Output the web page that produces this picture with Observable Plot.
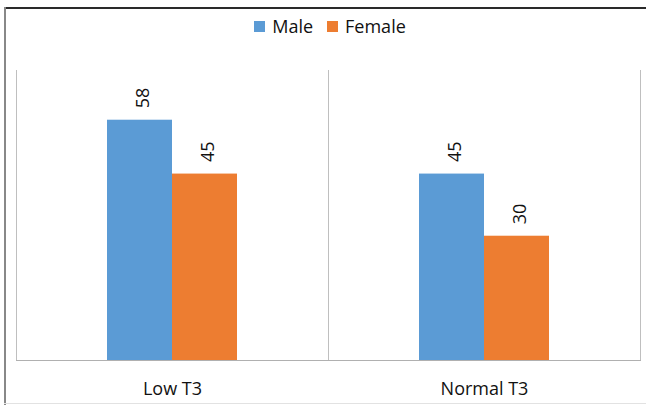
<!DOCTYPE html>
<html>
<head>
<meta charset="utf-8">
<script src="https://cdn.jsdelivr.net/npm/d3@7"></script>
<script src="https://cdn.jsdelivr.net/npm/@observablehq/plot@0.6"></script>
<style>
  html, body { margin: 0; padding: 0; background: #fff; }
  #wrap { position: relative; width: 646px; height: 405px; overflow: hidden; font-family: "Open Sans", sans-serif; }
  .edge { position: absolute; }
  #legend { position: absolute; top: 14px; left: 0; width: 660px; display: flex; justify-content: center; gap: 14px; font-size: 18px; color: #111; }
  #legend .item { display: flex; align-items: center; gap: 7px; }
  #legend .sw { width: 11px; height: 11px; display: inline-block; }
  #chart { position: absolute; top: 56px; left: 0; }
</style>
</head>
<body>
<div id="wrap">
  <div class="edge" style="left:4px; top:7px; width:642px; height:2px; background:#2a2a2a;"></div>
  <div class="edge" style="left:4px; top:7px; width:2px; height:398px; background:#888;"></div>
  <div class="edge" style="left:4px; top:403px; width:642px; height:1px; background:#e2e2e2;"></div>
  <div id="legend"></div>
  <div id="chart"></div>
</div>
<script>
// Patients by T3 status and sex
const groups = ["Low T3", "Normal T3"];
const sexes = ["Male", "Female"];
const maleValues = [58, 45];
const femaleValues = [45, 30];
const colors = ["#5b9bd5", "#ed7d31"];

const data = [];
groups.forEach((g, i) => {
  data.push({group: g, sex: "Male", value: maleValues[i]});
  data.push({group: g, sex: "Female", value: femaleValues[i]});
});

// Legend
const legend = document.getElementById("legend");
sexes.forEach((s, i) => {
  const item = document.createElement("div");
  item.className = "item";
  const sw = document.createElement("span");
  sw.className = "sw";
  sw.style.background = colors[i];
  const label = document.createElement("span");
  label.textContent = s;
  item.append(sw, label);
  legend.append(item);
});

const lineColor = "#bfbfbf";

const chart = Plot.plot({
  width: 646,
  height: 349,
  marginTop: 14,
  marginBottom: 45,
  marginLeft: 15,
  marginRight: 6,
  style: {fontFamily: "Open Sans, sans-serif", fontSize: "18px", color: "#111", background: "transparent"},
  fx: {domain: groups, padding: 0, axis: "bottom", label: null, tickSize: 0, tickPadding: 22},
  x: {domain: sexes, paddingInner: 0, paddingOuter: 1.378, axis: null},
  y: {domain: [0, 70], axis: null},
  color: {domain: sexes, range: colors},
  marks: [
    Plot.frame({anchor: "left", stroke: lineColor}),
    Plot.frame({anchor: "right", stroke: lineColor}),
    Plot.barY(data, {fx: "group", x: "sex", y: "value", fill: "sex"}),
    Plot.frame({anchor: "bottom", stroke: "#b0b0b0"}),
    Plot.text(data, {
      fx: "group", x: "sex", y: "value",
      text: d => String(d.value),
      rotate: -90, textAnchor: "start", lineAnchor: "middle",
      dy: -12, dx: 3, fontSize: 18, fill: "#111"
    })
  ]
});
document.getElementById("chart").append(chart);
</script>
</body>
</html>
